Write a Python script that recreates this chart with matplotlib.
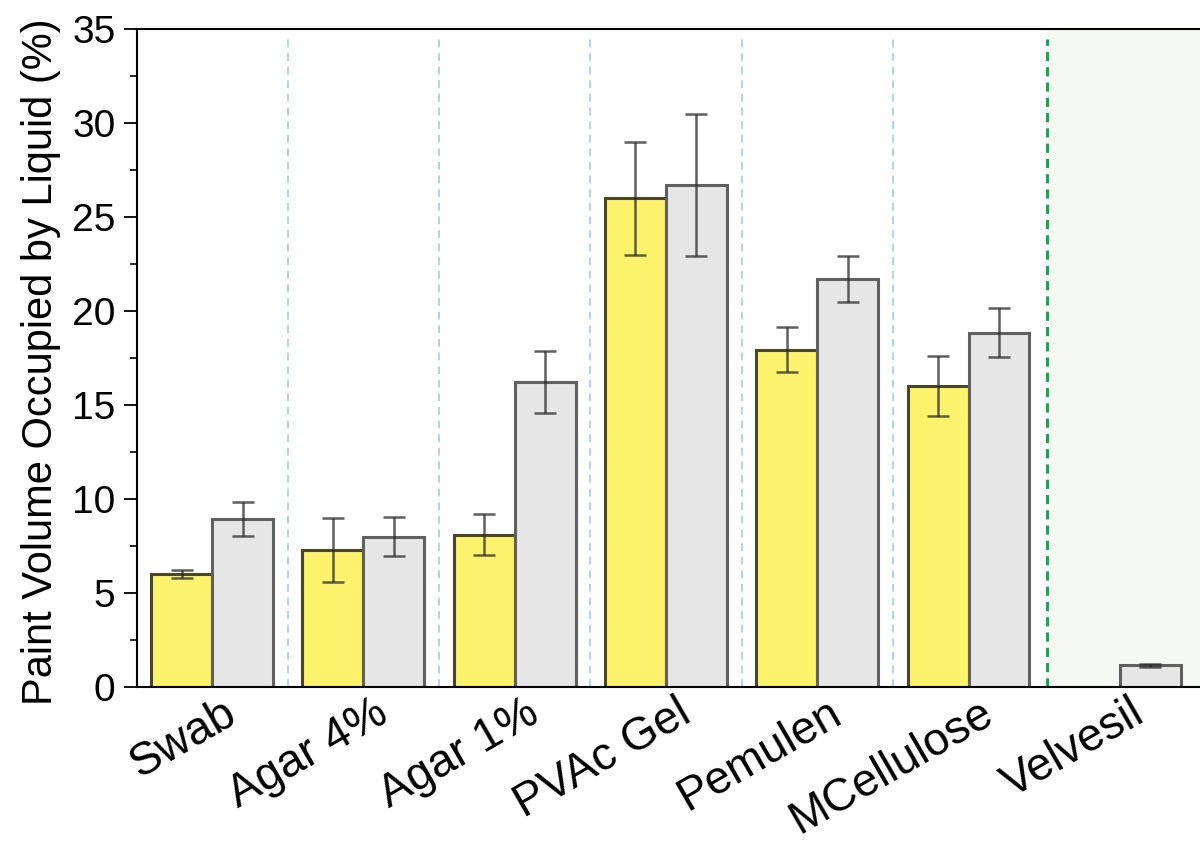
import matplotlib
matplotlib.use("Agg")
import matplotlib.pyplot as plt
import matplotlib.transforms as mtransforms
from matplotlib.ticker import MultipleLocator
import numpy as np

plt.rcParams['font.family'] = ['Liberation Sans', 'DejaVu Sans']

categories = ["Swab", "Agar 4%", "Agar 1%", "PVAc Gel", "Pemulen", "MCellulose", "Velvesil"]
# yellow series (no value for Velvesil)
yellow_vals = [6.0, 7.3, 8.1, 26.0, 17.95, 16.0]
yellow_err = [0.2, 1.7, 1.1, 3.0, 1.2, 1.6]
# grey series
grey_vals = [8.95, 8.0, 16.2, 26.7, 21.7, 18.85, 1.15]
grey_err = [0.9, 1.05, 1.65, 3.8, 1.2, 1.3, 0.1]

fig = plt.figure(figsize=(12, 8.47), dpi=100)
ax = fig.add_axes([0.1142, 0.1889, 0.8858, 0.7769])

x = np.arange(len(categories))
w = 0.403

# shaded area for Velvesil, separated by a green dashed line
ax.axvspan(5.52, 7.0, color='#f6f8f2', zorder=0)
for sep in x[:-2] + 0.5:
    ax.axvline(sep, ymin=0.0, ymax=0.985, color='#b5d0ea', lw=1.4,
               ls=(0, (4, 3)), zorder=1)
ax.axvline(5.52, ymin=0.0, ymax=0.985, color='#1aa35a', lw=2.2,
           ls=(0, (3, 2)), zorder=1)

ax.bar(x[:6] - w / 2, yellow_vals, w, color='#fdf26b', edgecolor='#4a4727',
       linewidth=2.2, zorder=2)
ax.bar(x + w / 2, grey_vals, w, color='#e6e6e6', edgecolor='#606060',
       linewidth=2.2, zorder=2)
ax.errorbar(x[:6] - w / 2, yellow_vals, yerr=yellow_err, fmt='none',
            ecolor='#2a2a2a', alpha=0.75, elinewidth=1.8, capsize=8,
            capthick=1.8, zorder=3)
ax.errorbar(x + w / 2, grey_vals, yerr=grey_err, fmt='none',
            ecolor='#2a2a2a', alpha=0.75, elinewidth=1.8, capsize=8,
            capthick=1.8, zorder=3)

ax.set_xlim(-0.496, 6.53)
ax.set_ylim(0, 35)
ax.yaxis.set_major_locator(MultipleLocator(5))
ax.yaxis.set_minor_locator(MultipleLocator(2.5))
ax.tick_params(axis='y', which='major', direction='out', length=9.5, width=1.3,
               labelsize=28, pad=6)
ax.tick_params(axis='y', which='minor', direction='out', length=5, width=1.2)
ax.tick_params(axis='x', length=0, pad=3)

ax.set_xticks(x)
offset = mtransforms.ScaledTranslation(0.10, 0.0, fig.dpi_scale_trans)
ax.set_xticklabels(categories, rotation=30, ha='right', va='top',
                   rotation_mode='anchor', fontsize=33)
for lab in ax.get_xticklabels():
    lab.set_transform(lab.get_transform() + offset)

ax.spines['right'].set_visible(False)
for s in ('left', 'top', 'bottom'):
    ax.spines[s].set_linewidth(1.5)

ax.set_ylabel("Paint Volume Occupied by Liquid (%)", fontsize=30)
ax.yaxis.set_label_coords(-0.072, 0.495)

fig.savefig("out.png", dpi=100)
